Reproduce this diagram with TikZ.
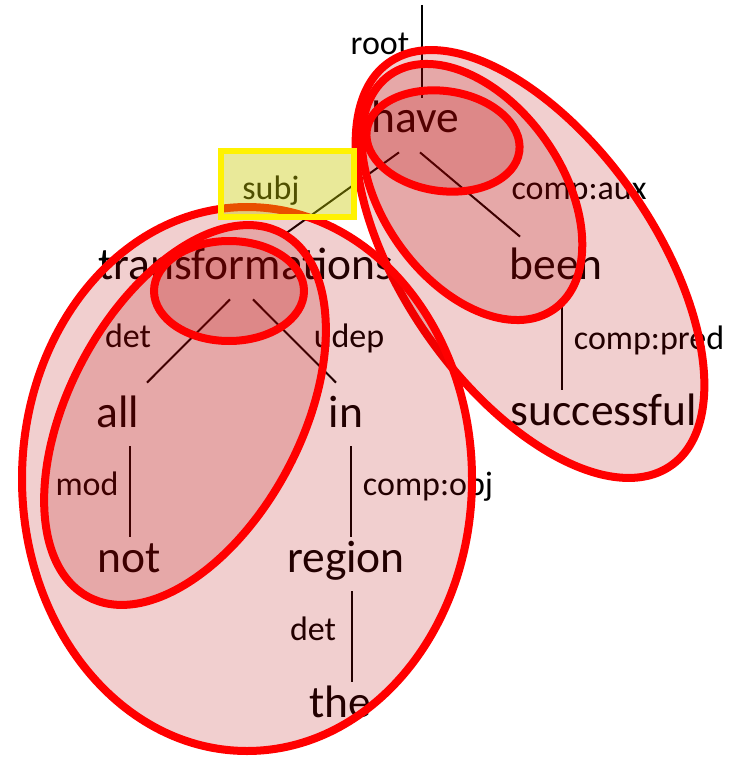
\documentclass[tikz,border=0pt]{standalone}
\usepackage{fontspec}
\setmainfont{Carlito}
\usetikzlibrary{positioning, calc}
\definecolor{grpred}{RGB}{255,0,0}
\definecolor{grpfill}{RGB}{182,0,0}
\definecolor{hlfill}{RGB}{200,200,0}
\tikzset{
  wrd/.style = {inner sep=0pt, anchor=base, text height=17.5pt, text depth=9.5pt,
                font=\fontsize{22.75}{27}\selectfont},
  lbl/.style = {inner sep=0pt, anchor=base, font=\fontsize{17}{20}\selectfont},
  dep/.style = {line width=1pt, black},
  grp/.style = {draw=grpred, line width=4pt, fill=grpfill, fill opacity=0.19},
  hil/.style = {draw=yellow, line width=3pt, fill=hlfill, fill opacity=0.4},
}

\begin{document}
\begin{tikzpicture}[x=0.5pt, y=-0.5pt]
  \useasboundingbox (0,0) rectangle (740,758);

  % ---- words ----
  \node[wrd] (have)   at (415,133) {have};
  \node[wrd] (trans)  at (246,280) {transformations};
  \node[wrd] (been)   at (556,280) {been};
  \node[wrd] (succ)   at (604,425) {successful};
  \node[wrd] (all)    at (118,427) {all};
  \node[wrd] (in)     at (346,427) {in};
  \node[wrd] (not)    at (129,572) {not};
  \node[wrd] (region) at (346,572) {region};
  \node[wrd] (the)    at (340,717) {the};
  \coordinate (top) at (422,5);

  % ---- dependencies ----
  \draw[dep] (top) -- ([xshift=3.5pt]have.north);
  \draw[dep] ([shift={(-16,0)}]have.south) -- ([shift={(41,-12)}]trans.north);
  \draw[dep] ([shift={(5,0)}]have.south) -- ([shift={(-36,-8)}]been.north);
  \draw[dep] ([shift={(-16,0)}]trans.south) -- ([shift={(29,-9)}]all.north);
  \draw[dep] ([shift={(7,0)}]trans.south) -- ([shift={(-10,-9)}]in.north);
  \draw[dep] ([xshift=6pt]all.south) -- ([xshift=0.5pt]not.north);
  \draw[dep] ([xshift=2.5pt]in.south) -- ([xshift=2.5pt]region.north);
  \draw[dep] ([xshift=3pt]region.south) -- ([xshift=6pt]the.north);
  \draw[dep] ([xshift=3pt]been.south) -- ([xshift=-21pt]succ.north);

  % ---- relation labels ----
  \node[lbl] (l-root) at (380,55)  {root};
  \node[lbl] (l-subj) at (271,200) {subj};
  \node[lbl] (l-aux)  at (579,200) {comp:aux};
  \node[lbl] (l-det)  at (128,348) {det};
  \node[lbl] (l-udep) at (349,348) {udep};
  \node[lbl] (l-mod)  at (87,495)  {mod};
  \node[lbl] (l-obj)  at (428,495) {comp:obj};
  \node[lbl] (l-pred) at (649,350) {comp:pred};
  \node[lbl] (l-det2) at (313,640) {det};

  % ---- subtrees ----
  \draw[grp] (530,264) ellipse [x radius=246, y radius=125, rotate=-55];
  \draw[grp] (472,192) ellipse [x radius=143, y radius=90, rotate=-55];
  \draw[grp] (443,141) ellipse [x radius=77, y radius=50, rotate=-8];
  \draw[grp] (247,479) ellipse [x radius=225, y radius=272];
  \draw[grp] (185,415) ellipse [x radius=206, y radius=116, rotate=62];
  \draw[grp] (229,291) ellipse [x radius=75, y radius=50];

  % ---- highlighted label ----
  \draw[hil] (221,151) rectangle (354,217);
\end{tikzpicture}
\end{document}
